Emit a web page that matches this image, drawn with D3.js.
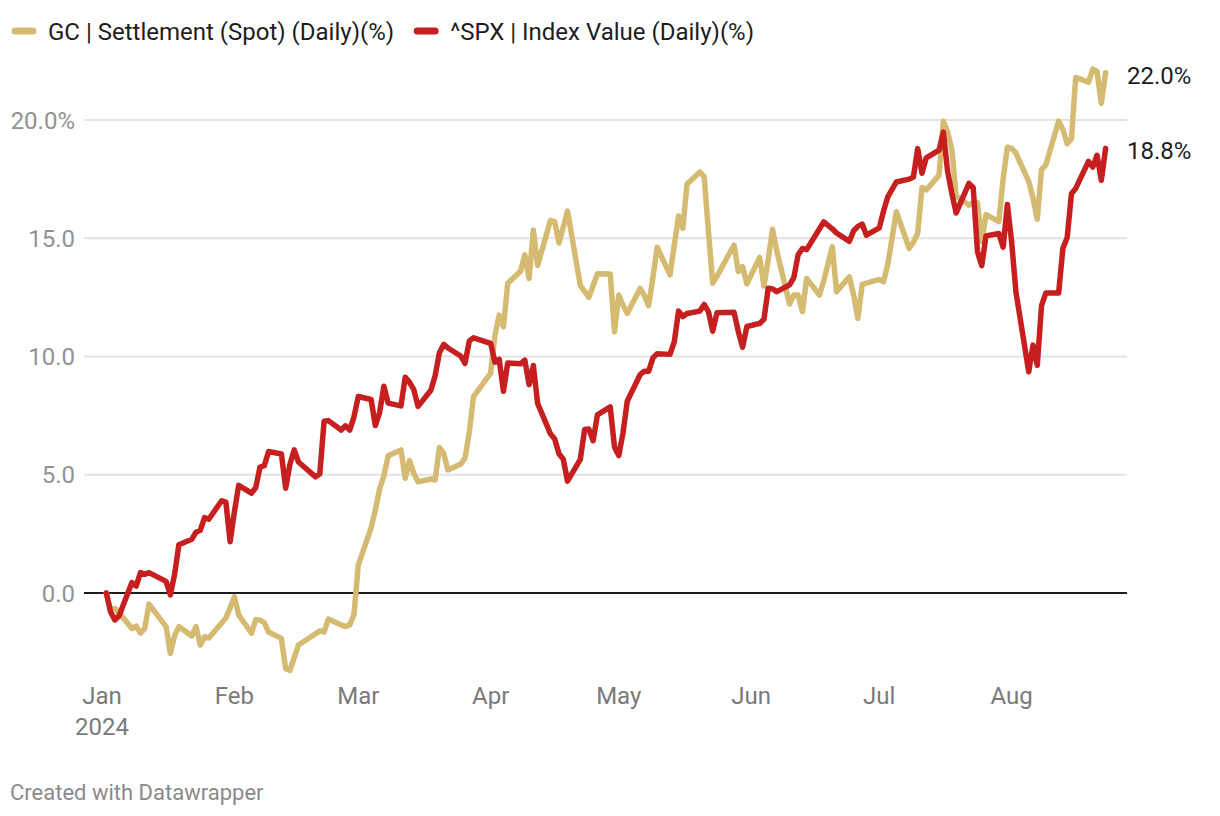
<!DOCTYPE html>
<html>
<head>
<meta charset="utf-8">
<script src="https://cdn.jsdelivr.net/npm/d3@7"></script>
<style>
  html, body { margin: 0; padding: 0; background: #fff; }
  svg text { font-family: Roboto, "Noto Sans", sans-serif; }
</style>
</head>
<body>
<svg id="chart" width="1220" height="816"></svg>
<script>
// ---- Data (percent change since 2 Jan 2024) ----
const year = 2024;
const tradingDays = {
  "01": [2,3,4,5,8,9,10,11,12,16,17,18,19,22,23,24,25,26,29,30,31],
  "02": [1,2,5,6,7,8,9,12,13,14,15,16,20,21,22,23,26,27,28,29],
  "03": [1,4,5,6,7,8,11,12,13,14,15,18,19,20,21,22,25,26,27,28],
  "04": [1,2,3,4,5,8,9,10,11,12,15,16,17,18,19,22,23,24,25,26,29,30],
  "05": [1,2,3,6,7,8,9,10,13,14,15,16,17,20,21,22,23,24,28,29,30,31],
  "06": [3,4,5,6,7,10,11,12,13,14,17,18,20,21,24,25,26,27,28],
  "07": [1,2,3,5,8,9,10,11,12,15,16,17,18,19,22,23,24,25,26,29,30,31],
  "08": [1,2,5,6,7,8,9,12,13,14,15,16,19,20,21,22,23]
};

const goldJan = [0,-0.75,-0.65,-0.85,-1.5,-1.4,-1.7,-1.5,-0.47,-1.42,-2.55,-1.8,-1.42,-1.82,-1.42,-2.2,-1.85,-1.9,-1.27,-1.06,-0.63];
const goldFeb = [-0.16,-0.93,-1.7,-1.12,-1.15,-1.25,-1.65,-1.92,-3.2,-3.27,-2.73,-2.2,-1.72,-1.6,-1.65,-1.1,-1.35,-1.42,-1.35,-0.92];
const goldMar = [1.18,2.75,3.5,4.4,4.95,5.8,6.05,4.85,5.6,5.05,4.7,4.82,4.78,6.15,5.9,5.2,5.45,5.7,6.8,8.3];
const goldApr = [9.3,10.9,11.75,11.26,13.1,13.6,14.3,13.3,15.35,13.85,15.75,15.7,14.8,15.47,16.15,13.0,12.75,12.5,13.0,13.5,13.49,11.05];
const goldMay = [12.6,12.17,11.83,12.88,12.57,12.15,13.35,14.62,13.45,14.7,15.94,15.42,17.3,17.8,17.6,15.3,13.1,13.4,14.71,13.59,13.8,13.07];
const goldJun = [14.19,12.98,14.1,15.38,14.46,12.22,12.6,12.6,11.9,13.3,12.6,13.2,14.64,12.74,13.37,12.6,11.61,13.05,13.1];
const goldJul = [13.26,13.16,13.9,16.12,14.57,14.83,15.21,17.15,17.04,17.67,19.95,19.5,18.75,16.8,16.4,16.5,16.5,14.85,16.0,15.7,17.5,18.85];
const goldAug = [18.8,18.6,17.4,16.7,15.8,17.9,18.1,19.95,19.6,19.0,19.2,21.8,21.6,22.15,22.05,20.7,22.0];

const spxJan = [0,-0.80,-1.14,-0.96,0.44,0.29,0.86,0.79,0.86,0.49,-0.08,0.80,2.04,2.27,2.57,2.65,3.19,3.12,3.90,3.84,2.17];
const spxFeb = [3.44,4.55,4.22,4.46,5.32,5.38,5.98,5.88,4.43,5.44,6.05,5.54,4.91,5.04,7.26,7.29,6.89,7.07,6.89,7.45];
const spxMar = [8.31,8.18,7.08,7.63,8.74,8.03,7.91,9.12,8.91,8.60,7.89,8.57,9.19,10.16,10.51,10.36,10.02,9.71,10.66,10.79];
const spxApr = [10.56,9.76,9.88,8.53,9.73,9.69,9.85,8.81,9.62,8.02,6.73,6.51,5.89,5.66,4.73,5.65,6.91,6.93,6.44,7.53,7.87,6.17];
const spxMay = [5.81,6.78,8.12,9.23,9.38,9.38,9.94,10.12,10.09,10.62,11.92,11.69,11.82,11.92,12.20,11.90,11.07,11.85,11.87,11.05,10.39,11.27];
const spxJun = [11.40,11.57,12.89,12.86,12.74,13.03,13.34,14.30,14.57,14.52,15.40,15.69,15.40,15.22,14.87,15.32,15.50,15.60,15.13];
const spxJul = [15.44,16.15,16.75,17.38,17.50,17.59,18.79,17.75,18.40,18.73,19.49,17.83,16.90,16.07,17.32,17.14,14.43,13.84,15.10,15.20,14.62,16.43];
const spxAug = [14.84,12.73,9.35,10.48,9.63,12.15,12.68,12.68,14.58,15.02,16.88,17.11,18.25,18.01,18.51,17.45,18.80];

const seriesNames = ["GC | Settlement (Spot) (Daily)(%)", "^SPX | Index Value (Daily)(%)"];
const seriesColors = ["#d5ba72", "#c71f1f"];
const yTicks = [0, 5, 10, 15, 20];
const yTickLabels = ["0.0", "5.0", "10.0", "15.0", "20.0%"];
const monthLabels = ["Jan", "Feb", "Mar", "Apr", "May", "Jun", "Jul", "Aug"];

// ---- Build ----
const dates = [];
Object.keys(tradingDays).forEach(m => tradingDays[m].forEach(d => dates.push(new Date(year, +m - 1, d))));
const gold = [].concat(goldJan, goldFeb, goldMar, goldApr, goldMay, goldJun, goldJul, goldAug);
const spx = [].concat(spxJan, spxFeb, spxMar, spxApr, spxMay, spxJun, spxJul, spxAug);
const series = [gold, spx].map((vals, i) => ({
  name: seriesNames[i], color: seriesColors[i],
  points: vals.map((v, j) => ({ date: dates[j], value: v }))
}));

const svg = d3.select("#chart");
svg.append("rect").attr("width", 1220).attr("height", 816).attr("fill", "#fff");

const x = d3.scaleTime()
  .domain([new Date(year, 0, 2), new Date(year, 7, 23)])
  .range([106.3, 1105.6]);
const y = d3.scaleLinear().domain([0, 20]).range([593, 120]);

const gridLeft = 84, gridRight = 1127;

// grid lines
const grid = svg.append("g");
yTicks.forEach((t, i) => {
  grid.append("line")
    .attr("x1", gridLeft).attr("x2", gridRight)
    .attr("y1", y(t)).attr("y2", y(t))
    .attr("stroke", t === 0 ? "#1d1d1d" : "#e3e3e3")
    .attr("stroke-width", 2);
  grid.append("text")
    .attr("x", 75).attr("y", y(t) + 8.5)
    .attr("text-anchor", "end")
    .attr("font-size", 24)
    .attr("fill", "#929292")
    .text(yTickLabels[i]);
});

// x axis labels
const months = monthLabels.map((m, i) => new Date(year, i, 1));
const xa = svg.append("g");
months.forEach((d, i) => {
  xa.append("text")
    .attr("x", x(d)).attr("y", 704)
    .attr("text-anchor", "middle")
    .attr("font-size", 24)
    .attr("fill", "#7a7a7a")
    .text(monthLabels[i]);
});
xa.append("text")
  .attr("x", x(months[0])).attr("y", 735)
  .attr("text-anchor", "middle")
  .attr("font-size", 24)
  .attr("fill", "#7a7a7a")
  .text(String(year));

// lines
const line = d3.line().x(d => x(d.date)).y(d => y(d.value)).curve(d3.curveLinear);
series.forEach(s => {
  svg.append("path")
    .datum(s.points)
    .attr("d", line)
    .attr("fill", "none")
    .attr("stroke", s.color)
    .attr("stroke-width", 5.5)
    .attr("stroke-linejoin", "round")
    .attr("stroke-linecap", "round");
});

// end labels
series.forEach(s => {
  const last = s.points[s.points.length - 1];
  svg.append("text")
    .attr("x", 1127).attr("y", y(last.value) + 11)
    .attr("font-size", 24)
    .attr("fill", "#1d1d1d")
    .text(last.value.toFixed(1) + "%");
});

// legend
const lg = svg.append("g");
let lx = 12;
series.forEach(s => {
  lg.append("line")
    .attr("x1", lx + 3).attr("x2", lx + 21)
    .attr("y1", 31).attr("y2", 31)
    .attr("stroke", s.color)
    .attr("stroke-width", 7)
    .attr("stroke-linecap", "round");
  const t = lg.append("text")
    .attr("x", lx + 36).attr("y", 39.5)
    .attr("font-size", 24)
    .attr("fill", "#1d1d1d")
    .text(s.name);
  lx = lx + 36 + t.node().getComputedTextLength() + 20;
});

// footer
svg.append("text")
  .attr("x", 10).attr("y", 800)
  .attr("font-size", 22)
  .attr("fill", "#8a8a8a")
  .text("Created with Datawrapper");
</script>
</body>
</html>
